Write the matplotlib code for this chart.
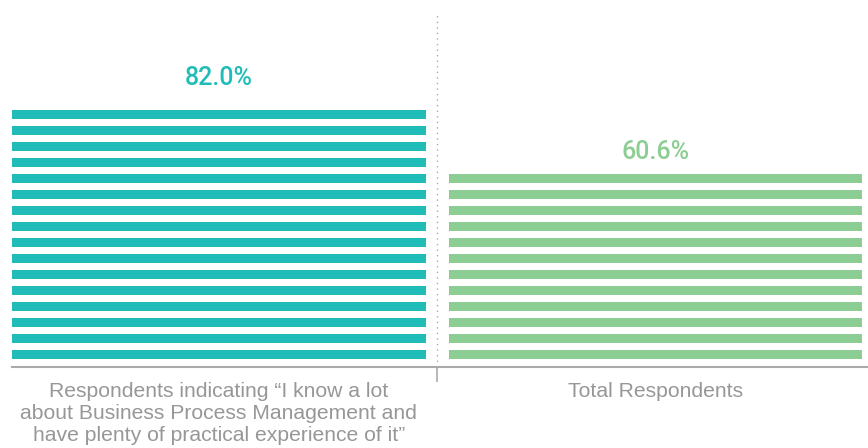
import matplotlib
matplotlib.use("Agg")
import matplotlib.pyplot as plt

# ── data ──────────────────────────────────────────────────────────────────────
categories = [
    "Respondents indicating \u201cI know a lot\nabout Business Process Management and\nhave plenty of practical experience of it\u201d",
    "Total Respondents",
]
values = [82.0, 60.6]
value_labels = ["82.0%", "60.6%"]
colors = ["#1fbcb8", "#8ccd93"]

# stripe geometry (data units, 1 unit ~ 3.16 px)
STRIPE_PERIOD = 5.06
STRIPE_HEIGHT = 2.85
STRIPE_OFFSET = 2.53
BAR_WIDTH = 0.948

plt.rcParams["font.family"] = ["Liberation Sans", "DejaVu Sans"]

fig = plt.figure(figsize=(8.68, 4.48), dpi=100)
ax = fig.add_axes([12 / 868, 81 / 448, 856 / 868, 354 / 448])

for i, (val, col) in enumerate(zip(values, colors)):
    n = int(round(val / STRIPE_PERIOD))
    for k in range(n):
        ax.bar(i, STRIPE_HEIGHT, bottom=STRIPE_OFFSET + k * STRIPE_PERIOD,
               width=BAR_WIDTH, color=col, linewidth=0)
    ax.text(i, val * 1.088, value_labels[i], ha="center", va="baseline",
            fontsize=18, color=col, family=["Roboto", "DejaVu Sans"],
            fontweight="medium")

ax.axvline(0.5, color="#aaaaaa", ls=(0, (1, 3)), lw=1.0)

ax.set_xlim(-0.474, 1.487)
ax.set_ylim(0, 112)
ax.set_xticks([0.5])
ax.set_xticklabels([""])
ax.tick_params(axis="x", length=11, width=1.2, color="#aaaaaa", direction="out")
ax.set_yticks([])
for side in ["top", "right", "left"]:
    ax.spines[side].set_visible(False)
ax.spines["bottom"].set_color("#aaaaaa")
ax.spines["bottom"].set_linewidth(1.5)

for i, cat in enumerate(categories):
    ax.text(i, -4.8, cat, ha="center", va="top", fontsize=15.2,
            color="#979797", linespacing=1.2)

fig.savefig("out.png", dpi=100)
